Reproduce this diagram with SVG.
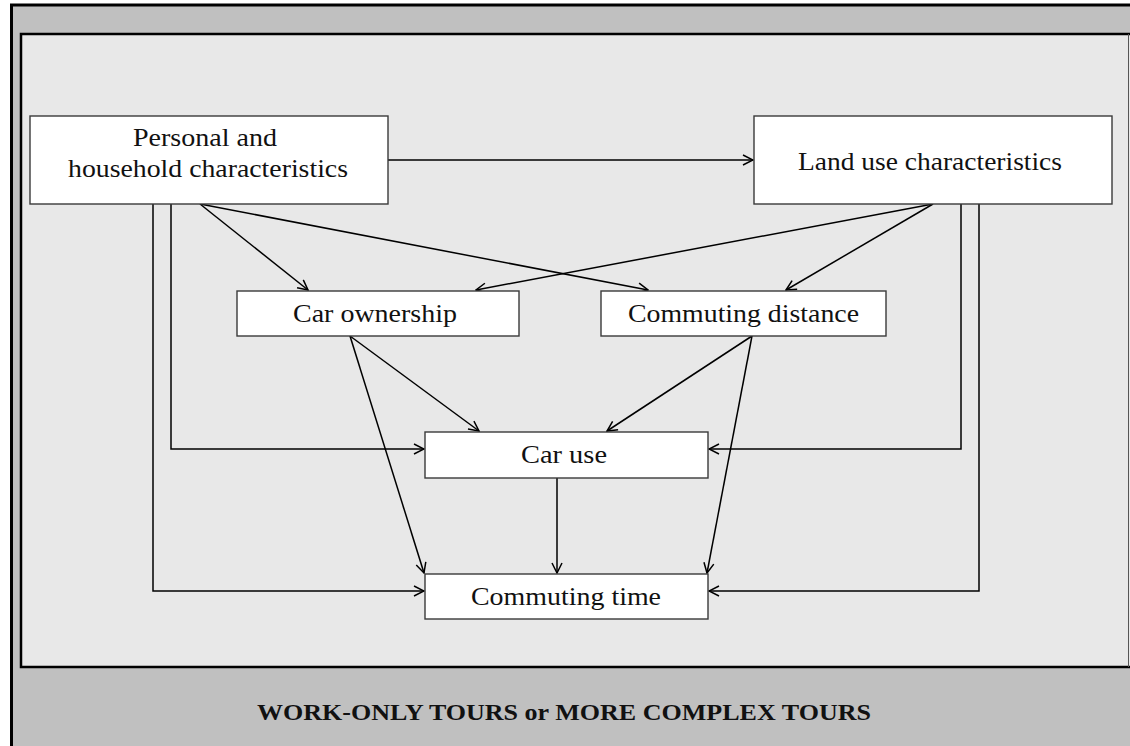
<svg xmlns="http://www.w3.org/2000/svg" width="1130" height="746" viewBox="0 0 1130 746">
  <defs>
    <marker id="arrow" viewBox="0 0 12 12" refX="11" refY="6" markerWidth="12" markerHeight="12" markerUnits="userSpaceOnUse" orient="auto">
      <path d="M1,1 L11,6 L1,11" fill="none" stroke="#000" stroke-width="1.5"/>
    </marker>
  </defs>
  <style>
    .box { fill: #ffffff; stroke: #3a3a3a; stroke-width: 1.4; }
    .label { font-family: "Liberation Serif", "DejaVu Serif", serif; font-size: 26px; fill: #111; text-anchor: middle; }
    .band { font-family: "Liberation Serif", "DejaVu Serif", serif; font-size: 23px; font-weight: bold; fill: #111; text-anchor: middle; }
    .link { fill: none; stroke: #000; stroke-width: 1.5; marker-end: url(#arrow); }
  </style>

  <!-- page background -->
  <rect x="0" y="0" width="1130" height="746" fill="#ffffff"/>

  <!-- outer frame -->
  <rect x="11.5" y="5" width="1130" height="760" fill="#c0c0c0" stroke="#000" stroke-width="3"/>
  <!-- inner panel -->
  <rect x="21" y="34" width="1115" height="633" fill="#e8e8e8" stroke="#000" stroke-width="2.5"/>
  <line x1="1128.5" y1="34" x2="1128.5" y2="667" stroke="#555" stroke-width="1"/>

  <!-- connectors -->
  <g id="connectors">
    <line class="link" x1="388" y1="160" x2="753" y2="160"/>
    <line class="link" x1="200" y1="204" x2="308" y2="290"/>
    <line class="link" x1="200" y1="204" x2="648" y2="290"/>
    <line class="link" x1="933" y1="204" x2="476" y2="290"/>
    <line class="link" x1="933" y1="204" x2="786" y2="290"/>
    <polyline class="link" points="171,204 171,449 424,449"/>
    <polyline class="link" points="153,204 153,591 424,591"/>
    <polyline class="link" points="961,204 961,449 709,449"/>
    <polyline class="link" points="979,204 979,591 709,591"/>
    <line class="link" x1="350" y1="336" x2="479" y2="431"/>
    <line class="link" x1="350" y1="336" x2="424" y2="573"/>
    <line class="link" x1="752" y1="336" x2="607" y2="431"/>
    <line class="link" x1="752" y1="336" x2="707" y2="573"/>
    <line class="link" x1="557" y1="478" x2="557" y2="573"/>
  </g>

  <!-- nodes -->
  <g id="personal">
    <rect class="box" x="30" y="116" width="358" height="88"/>
    <text class="label" x="205" y="146" textLength="144" lengthAdjust="spacingAndGlyphs">Personal and</text>
    <text class="label" x="208" y="177" textLength="280" lengthAdjust="spacingAndGlyphs">household characteristics</text>
  </g>
  <g id="landuse">
    <rect class="box" x="754" y="116" width="358" height="88"/>
    <text class="label" x="930" y="170" textLength="264" lengthAdjust="spacingAndGlyphs">Land use characteristics</text>
  </g>
  <g id="carownership">
    <rect class="box" x="237" y="291" width="282" height="45"/>
    <text class="label" x="375" y="322" textLength="164" lengthAdjust="spacingAndGlyphs">Car ownership</text>
  </g>
  <g id="commutingdistance">
    <rect class="box" x="601" y="291" width="285" height="45"/>
    <text class="label" x="743.5" y="322" textLength="231" lengthAdjust="spacingAndGlyphs">Commuting distance</text>
  </g>
  <g id="caruse">
    <rect class="box" x="425" y="432" width="283" height="46"/>
    <text class="label" x="564" y="463" textLength="86" lengthAdjust="spacingAndGlyphs">Car use</text>
  </g>
  <g id="commutingtime">
    <rect class="box" x="425" y="574" width="283" height="45"/>
    <text class="label" x="566" y="605" textLength="190" lengthAdjust="spacingAndGlyphs">Commuting time</text>
  </g>

  <!-- band caption -->
  <text class="band" x="564" y="720" textLength="614" lengthAdjust="spacingAndGlyphs">WORK-ONLY TOURS or MORE COMPLEX TOURS</text>
</svg>
